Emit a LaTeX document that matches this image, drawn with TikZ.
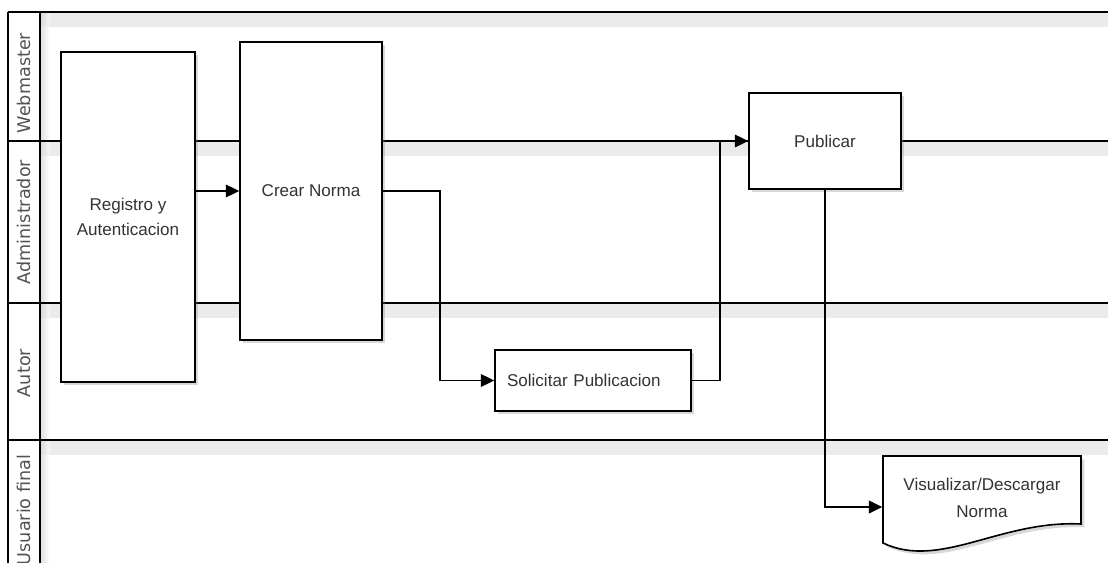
\documentclass[tikz,border=0pt]{standalone}
\usepackage{fontspec}
\setmainfont{Liberation Sans}
\newfontfamily\lanefont{DejaVu Sans}
\usetikzlibrary{arrows.meta,shadows}
\definecolor{bandgray}{HTML}{EBEBEB}
\definecolor{txtgray}{HTML}{333333}
\begin{document}
\begin{tikzpicture}[x=0.75pt, y=-0.75pt, line width=1.1pt,
    task/.style = {draw, fill=white, line width=1.2pt, text=txtgray, align=center,
        font=\fontsize{12.8}{18.5}\selectfont,
        drop shadow={shadow xshift=2.5pt, shadow yshift=-2.5pt, opacity=0.3}},
    lanename/.style = {rotate=90, text=txtgray!85, font=\lanefont\fontsize{13.2}{15}\selectfont},
    flow/.style = {-{Triangle[length=10pt, width=9.5pt]}}]

		\useasboundingbox (0,0) rectangle (1108,563);
		\fill[white] (0,0) rectangle (1108,563);
		\clip (0,0) rectangle (1108,563);

		% lanes
		\foreach \y in {12,141,303,440}
			\fill[bandgray] (40,\y+1) rectangle (1108,\y+15);
		\shade[left color=black!18, right color=white, opacity=0.6] (41,12) rectangle (50,563);
		\foreach \y in {12,141,303,440}
			\draw (8,\y) -- (1108,\y);
		\draw (8,12) -- (8,563);
		\draw (40,12) -- (40,563);

		\node[lanename] (wm) at (24,83) {Webmaster};
		\node[lanename] (adm) at (24,222) {Administrador};
		\node[lanename] (aut) at (24,373) {Autor};
		\node[lanename] (usr) at (24,510) {Usuario final};

		% tasks
		\node[task, minimum width=100.5pt, minimum height=247.5pt] (reg) at (128,217) {Registro y\\Autenticacion};
		\node[task, minimum width=106.5pt, minimum height=223.5pt] (crear) at (311,191) {Crear Norma};
		\node[task, minimum width=114pt, minimum height=72pt] (pub) at (825,141) {Publicar};
		\node[task, text width=129pt, inner xsep=9pt, align=left, minimum height=45.75pt] (sol) at (593,380.5) {Solicitar Publicacion};

		\path[draw, fill=white, line width=1.2pt, drop shadow={shadow xshift=2.5pt, shadow yshift=-2.5pt, opacity=0.3}]
			(883,456) -- (1081,456) -- (1081,524) .. controls (1000,520) and (940,570) .. (883,543) -- cycle;
		\node[text=txtgray, align=center, font=\fontsize{12.8}{20}\selectfont, minimum width=148.5pt, minimum height=63pt] (doc) at (982,498) {Visualizar/Descargar\\Norma};

		% flows
		\draw[flow] (reg.east |- crear.west) -- (crear.west);
		\draw[flow] (crear.east) -- ++(57,0) |- (sol.west);
		\draw[flow] (sol.east) -- ++(28,0) |- (pub.west);
		\draw[flow] (pub.south) |- ([yshift=-6.75pt]doc.west);
	\end{tikzpicture}
\end{document}
